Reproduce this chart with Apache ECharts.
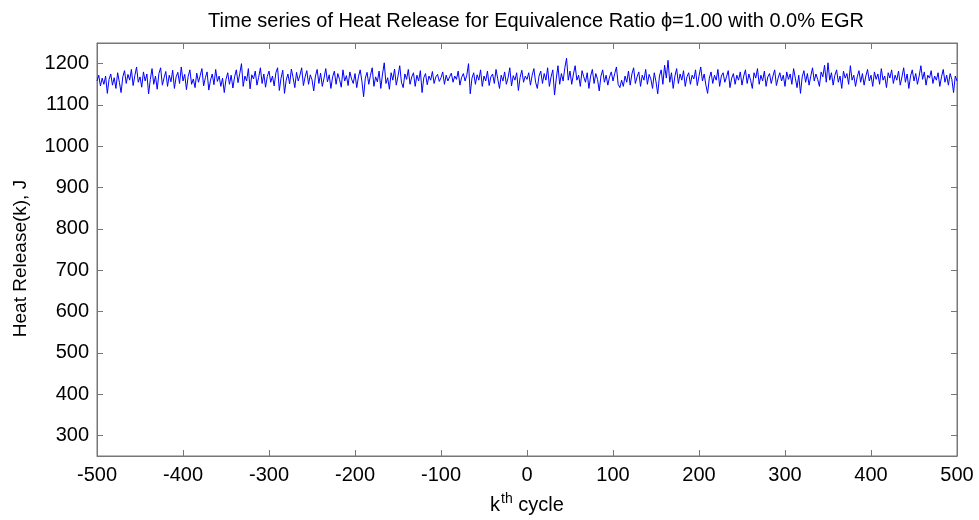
<!DOCTYPE html>
<html>
<head>
<meta charset="utf-8">
<script src="https://cdn.jsdelivr.net/npm/echarts@6/dist/echarts.min.js"></script>
<style>
  html, body { margin: 0; padding: 0; background: #fff; }
  #main { width: 979px; height: 520px; }
</style>
</head>
<body>
<div id="main"></div>
<script>
// cycle index runs -500..500 in steps of 2
const cycleStart = -500
const cycleStep = 2
// heat release per cycle, J
const heatRelease = [
  1158,1172,1146,1165,1150,1170,1128,1162,1175,1148,1166,1140,1178,1155,1130,1168,1183,1152,1174,1160,1186,1147,1171,1192,1155,
  1168,1143,1180,1158,1175,1127,1162,1188,1150,1170,1138,1176,1190,1148,1166,1181,1145,1172,1156,1184,1140,1168,1179,1152,1192,
  1158,1174,1137,1169,1185,1150,1163,1142,1177,1155,1171,1188,1146,1166,1180,1136,1160,1175,1149,1186,1157,1170,1145,1165,1130,
  1162,1178,1150,1172,1141,1168,1185,1154,1176,1200,1145,1170,1158,1188,1139,1173,1163,1182,1148,1167,1190,1152,1175,1143,1169,
  1182,1155,1170,1146,1178,1190,1135,1165,1184,1128,1160,1175,1151,1187,1166,1142,1179,1158,1172,1190,1147,1168,1183,1150,1173,
  1161,1134,1170,1186,1152,1177,1145,1165,1188,1156,1173,1140,1168,1182,1150,1176,1162,1143,1185,1158,1171,1147,1180,1163,1152,
  1176,1142,1168,1185,1158,1120,1165,1179,1150,1172,1190,1145,1168,1156,1182,1140,1175,1202,1152,1166,1138,1178,1160,1187,1148,
  1170,1195,1155,1142,1175,1162,1186,1150,1168,1178,1145,1172,1158,1183,1130,1166,1176,1149,1170,1160,1181,1152,1168,1174,1157,
  1166,1180,1150,1172,1158,1168,1177,1155,1170,1162,1182,1148,1167,1176,1158,1172,1200,1127,1165,1178,1150,1173,1160,1185,1145,
  1170,1158,1182,1147,1168,1175,1152,1186,1163,1140,1172,1158,1180,1150,1166,1190,1146,1171,1160,1178,1135,1167,1184,1155,1170,
  1162,1178,1148,1172,1188,1155,1140,1170,1182,1152,1176,1160,1190,1145,1168,1185,1124,1163,1195,1150,1176,1158,1190,1213,1160,
  1182,1150,1175,1195,1160,1172,1145,1183,1168,1155,1178,1140,1170,1186,1152,1176,1162,1134,1170,1185,1155,1172,1148,1168,1180,
  1158,1176,1192,1150,1142,1160,1145,1170,1155,1182,1148,1175,1190,1152,1168,1180,1145,1172,1160,1186,1150,1174,1163,1140,1178,
  1156,1127,1170,1185,1150,1196,1165,1208,1155,1178,1140,1170,1188,1152,1175,1160,1183,1145,1168,1178,1150,1172,1163,1185,1147,
  1170,1192,1158,1175,1148,1128,1165,1180,1152,1172,1160,1186,1145,1170,1178,1155,1168,1183,1142,1165,1176,1150,1172,1160,1180,
  1148,1170,1185,1152,1175,1160,1140,1178,1165,1188,1150,1172,1158,1182,1145,1168,1176,1152,1170,1185,1147,1165,1178,1158,1172,
  1145,1180,1162,1175,1150,1188,1165,1142,1172,1128,1168,1183,1155,1176,1148,1170,1190,1158,1175,1162,1145,1180,1168,1196,1155,
  1202,1160,1178,1148,1172,1185,1155,1170,1140,1182,1165,1176,1150,1195,1160,1172,1145,1168,1183,1155,1176,1148,1170,1186,1158,
  1172,1145,1180,1162,1175,1150,1188,1160,1170,1142,1178,1165,1185,1152,1172,1160,1182,1148,1168,1190,1155,1175,1140,1170,1185,
  1158,1176,1150,1170,1195,1162,1180,1148,1172,1165,1183,1152,1170,1160,1178,1145,1168,1186,1155,1172,1148,1176,1162,1130,1170,
  1158
]
const yTicks = [300, 400, 500, 600, 700, 800, 900, 1000, 1100, 1200]

const font = '"Liberation Sans", Arial, Helvetica, sans-serif'
const frameColor = '#777'

const points = heatRelease.map((v, i) => [cycleStart + i * cycleStep, v])

const chart = echarts.init(document.getElementById('main'), null, { renderer: 'canvas' })
chart.setOption({
  animation: false,
  backgroundColor: '#fff',
  textStyle: { fontFamily: font },
  title: {
    text: 'Time series of Heat Release for Equivalence Ratio \u03d5=1.00 with 0.0% EGR',
    left: 531,
    textAlign: 'center',
    top: 6,
    textStyle: { fontFamily: font, fontSize: 20, fontWeight: 'normal', color: '#000' },
  },
  grid: {
    left: 97,
    right: 22,
    top: 43,
    bottom: 64,
    outerBoundsMode: 'none',
    containLabel: false,
    show: true,
    borderColor: frameColor,
    borderWidth: 1,
  },
  xAxis: [
    {
      type: 'value',
      min: -500,
      max: 500,
      interval: 100,
      name: '{a|k}{sup|th}{a| cycle}',
      nameLocation: 'middle',
      nameGap: 36,
      nameTextStyle: {
        rich: {
          a: { fontFamily: font, fontSize: 20, color: '#000' },
          sup: { fontFamily: font, fontSize: 14, color: '#000', padding: [0, 0, 13, 1] },
        },
      },
      axisLine: { show: true, onZero: false, lineStyle: { color: frameColor } },
      axisTick: { show: true, inside: true, length: 6, lineStyle: { color: frameColor } },
      axisLabel: { fontFamily: font, fontSize: 20, color: '#000', margin: 9 },
      splitLine: { show: false },
    },
    {
      type: 'value',
      position: 'top',
      min: -500,
      max: 500,
      interval: 100,
      axisLine: { show: true, onZero: false, lineStyle: { color: frameColor } },
      axisTick: { show: true, inside: true, length: 6, lineStyle: { color: frameColor } },
      axisLabel: { show: false },
      splitLine: { show: false },
    },
  ],
  yAxis: [
    {
      type: 'value',
      min: 250,
      max: 1250,
      name: 'Heat Release(k), J',
      nameLocation: 'middle',
      nameGap: 67,
      nameTextStyle: { fontFamily: font, fontSize: 19, color: '#000', padding: [0, 18, 0, 0] },
      axisLine: { show: true, onZero: false, lineStyle: { color: frameColor } },
      axisTick: { show: true, inside: true, length: 6, customValues: yTicks, lineStyle: { color: frameColor } },
      axisLabel: {
        fontFamily: font,
        fontSize: 20,
        color: '#000',
        margin: 8,
        customValues: yTicks,
        formatter: (v) => String(v),
      },
      splitLine: { show: false },
    },
    {
      type: 'value',
      position: 'right',
      min: 250,
      max: 1250,
      axisLine: { show: true, onZero: false, lineStyle: { color: frameColor } },
      axisTick: { show: true, inside: true, length: 6, customValues: yTicks, lineStyle: { color: frameColor } },
      axisLabel: { show: false, customValues: yTicks },
      splitLine: { show: false },
    },
  ],
  series: [
    {
      name: 'Heat Release',
      type: 'line',
      data: points,
      showSymbol: false,
      symbol: 'none',
      lineStyle: { color: '#0000ff', width: 1 },
      itemStyle: { color: '#0000ff' },
    },
  ],
})
</script>
</body>
</html>
